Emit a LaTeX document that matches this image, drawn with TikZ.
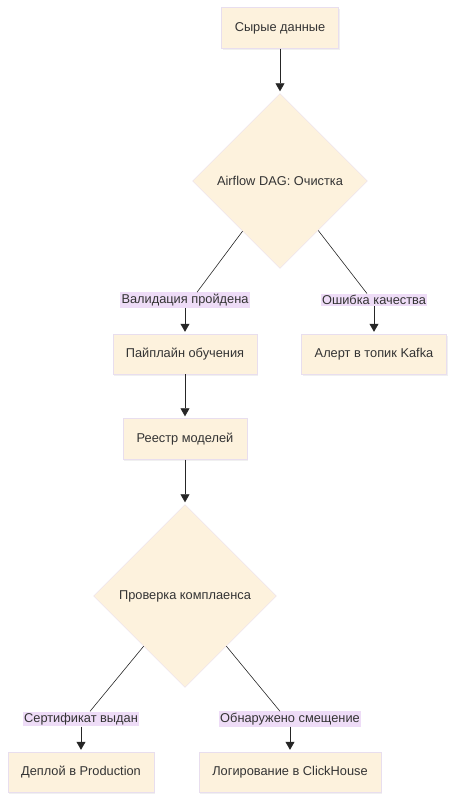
\documentclass[tikz,border=0pt]{standalone}
\usepackage{fontspec}
\setmainfont{Liberation Sans}
\usetikzlibrary{arrows.meta, calc, shapes.geometric, shadows}
\definecolor{boxfill}{HTML}{FDF2DD}
\definecolor{boxline}{HTML}{E8DEEE}
\definecolor{labelfill}{HTML}{EEDCF7}
\definecolor{textgray}{HTML}{333333}

\begin{document}
\begin{tikzpicture}[x=1pt, y=-1pt,
                font=\fontsize{12.8}{15}\selectfont, text=textgray,
                box/.style={
                    draw=boxline, fill=boxfill, inner sep=0pt,
                    minimum height=40pt,
                    drop shadow={opacity=0.12, shadow xshift=1pt, shadow yshift=-1.5pt}
                },
                decision/.style={
                    diamond, draw=boxline, fill=boxfill, inner sep=0pt, aspect=1
                },
                edge label/.style={fill=labelfill, inner sep=1.5pt},
                flow/.style={draw=black!85, line width=0.6pt},
                arrow style/.style={flow, -{Triangle[length=8pt, width=9pt]}, shorten >=2pt}
            ]

            \useasboundingbox (0, 0) rectangle (455, 800);

            \node[box, minimum width=117pt, minimum height=41pt] (raw) at (280, 28) {Сырые данные};
            \node[decision, minimum size=175pt] (dag) at (280, 181) {Airflow DAG: Очистка};
            \node[box, minimum width=144pt] (train) at (185, 354) {Пайплайн обучения};
            \node[box, minimum width=145pt] (alert) at (374, 354) {Алерт в топик Kafka};
            \node[box, minimum width=124pt, minimum height=41pt] (registry) at (185, 439) {Реестр моделей};
            \node[decision, minimum size=183pt] (check) at (185, 596) {Проверка комплаенса};
            \node[box, minimum width=146pt] (deploy) at (81, 772) {Деплой в Production};
            \node[box, minimum width=182pt] (log) at (290, 772) {Логирование в ClickHouse};

            \node[edge label] (passed) at (185, 300) {Валидация пройдена};
            \node[edge label] (failed) at (374, 300) {Ошибка качества};
            \node[edge label] (certified) at (81, 719) {Сертификат выдан};
            \node[edge label] (drift) at (290, 719) {Обнаружено смещение};

            \draw[arrow style] (raw) -- (dag);
            \draw[flow] (dag) -- ($(passed.north)+(12, 0)$);
            \draw[arrow style] (passed) -- (train);
            \draw[flow] (dag) -- ($(failed.north)+(-7, 0)$);
            \draw[arrow style] (failed) -- (alert);
            \draw[arrow style] (train) -- (registry);
            \draw[arrow style] (registry) -- (check);
            \draw[flow] (check) -- ($(certified.north)+(9, 0)$);
            \draw[arrow style] (certified) -- (deploy);
            \draw[flow] (check) -- ($(drift.north)+(-10, 0)$);
            \draw[arrow style] (drift) -- (log);
        \end{tikzpicture}
\end{document}
